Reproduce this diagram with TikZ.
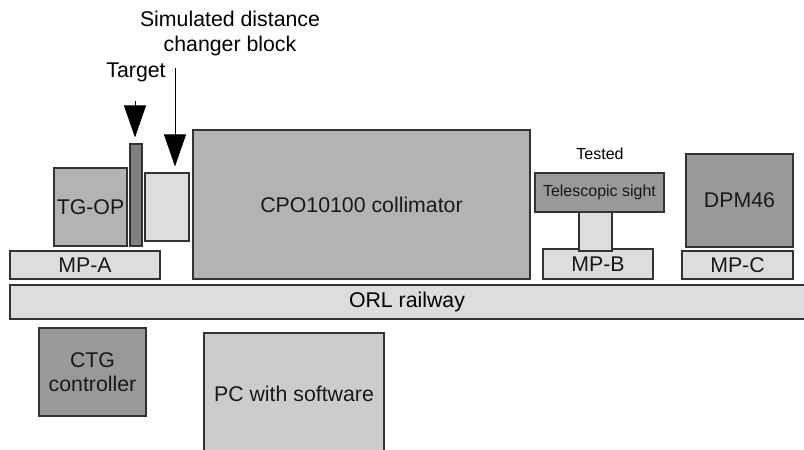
\documentclass[tikz,border=0pt]{standalone}
\usepackage{fontspec}
\setmainfont{Liberation Sans}
\usetikzlibrary{arrows.meta}

\definecolor{lightbox}{HTML}{DDDDDD}
\definecolor{midbox}{HTML}{B3B3B3}
\definecolor{darkbox}{HTML}{999999}
\definecolor{pcbox}{HTML}{CCCCCC}
\definecolor{barbox}{HTML}{808080}
\definecolor{edge}{HTML}{333333}

\begin{document}
\begin{tikzpicture}[x=1pt, y=-1pt,
    blk/.style={draw=edge, line width=1.1pt, inner sep=0pt, align=center, text=black!90,
      font=\fontsize{21.3}{24}\selectfont},
    small/.style={font=\fontsize{16}{18}\selectfont},
    pointer/.style={-{Triangle[width=22pt, length=32pt]}, line width=0.9pt, shorten >=6pt}]
    \clip (0,0) rectangle (804,450);

    \node[blk, fill=lightbox, minimum width=800pt, minimum height=34pt] (rail) at (410,302) {};
    \node[font=\fontsize{21.3}{24}\selectfont] (raillbl) at (407,302) {ORL railway};

    \node[blk, fill=lightbox, minimum width=150pt, minimum height=28pt] (mpa) at (85,265) {MP-A};
    \node[blk, fill=midbox, minimum width=73pt, minimum height=78pt] (tgop) at (90.5,207) {TG-OP};
    \node[blk, fill=barbox, minimum width=12pt, minimum height=102pt] (bar) at (136,195) {};
    \node[blk, fill=lightbox, minimum width=44pt, minimum height=68pt] (sim) at (167,207) {};
    \node[blk, fill=midbox, minimum width=337pt, minimum height=149pt] (cpo) at (361.5,204.5) {CPO10100 collimator};

    \node[blk, fill=lightbox, minimum width=110pt, minimum height=30pt] (mpb) at (598,264) {MP-B};
    \node[blk, fill=lightbox, minimum width=33pt, minimum height=39pt] (post) at (595.5,231.5) {};
    \node[blk, small, fill=darkbox, minimum width=129pt, minimum height=39pt] (tele) at (599.5,192.5) {Telescopic sight};
    \node[small] (tested) at (600,154) {Tested};

    \node[blk, fill=darkbox, minimum width=107pt, minimum height=93pt] (dpm) at (739.5,200.5) {DPM46};
    \node[blk, fill=lightbox, minimum width=111pt, minimum height=28pt] (mpc) at (737.5,265) {MP-C};

    \node[blk, fill=darkbox, minimum width=107pt, minimum height=88pt] (ctg) at (92.5,372) {CTG\\controller};
    \node[blk, fill=pcbox, minimum width=180pt, minimum height=122pt] (pc) at (294,394) {PC with software};

    % labels and pointers
    \node[font=\fontsize{21.3}{24}\selectfont] (target) at (136,72) {Target};
    \node[font=\fontsize{21.3}{25}\selectfont, align=center] (simlbl) at (230,33.5) {Simulated distance\\changer block};
    \coordinate (target-in) at (135,101);
    \coordinate (sim-in) at (175,68);
    \draw[pointer] (target-in) -- (target-in |- bar.north);
    \draw[pointer] (sim-in) -- (sim-in |- sim.north);
\end{tikzpicture}
\end{document}
